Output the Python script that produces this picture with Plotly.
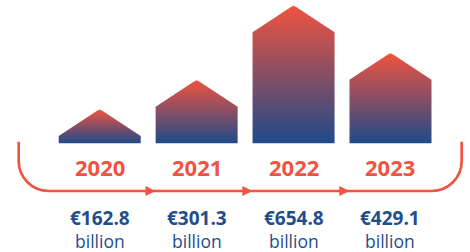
import plotly.graph_objects as go

# ---- data ----
years = ["2020", "2021", "2022", "2023"]
values = [162.8, 301.3, 654.8, 429.1]
value_labels = ["€162.8", "€301.3", "€654.8", "€429.1"]
unit_label = "billion"

# ---- style ----
W, H = 470, 252
RED = "#F0533F"
BLUE = "#1F4A8A"
TXT_BLUE = "#1F4E8C"
FONT = "Open Sans"

X_RANGE = [-1.0286, 3.8203]
Y_RANGE = [-515.7, 679.9]
px_per_x = W / (X_RANGE[1] - X_RANGE[0])
px_per_y = H / (Y_RANGE[1] - Y_RANGE[0])

half_w = 41 / px_per_x
roof = 27 / px_per_y


def py(p):  # pixel-from-top -> paper
    return 1 - p / H


def pxp(p):  # pixel-from-left -> paper
    return p / W


fig = go.Figure()

for i, v in enumerate(values):
    cx = i
    shoulder = v - roof
    cx_off = 3 / px_per_x
    cy_off = 2 / px_per_y
    xs = [cx - half_w, cx - half_w, cx - cx_off, cx, cx + cx_off, cx + half_w, cx + half_w, cx - half_w]
    ys = [0, shoulder, v - cy_off, v - 0.4 / px_per_y, v - cy_off, shoulder, 0, 0]
    fig.add_trace(go.Scatter(
        x=xs, y=ys, mode="lines", fill="toself",
        line=dict(width=0, color="rgba(0,0,0,0)"),
        fillgradient=dict(type="vertical", colorscale=[[0, BLUE], [1, RED]]),
        hoverinfo="skip", showlegend=False,
    ))

# year labels, values + units
for i, (yr, vl) in enumerate(zip(years, value_labels)):
    fig.add_annotation(x=i, y=py(166.5), xref="x", yref="paper", text=yr,
                       showarrow=False, yanchor="middle", xanchor="center",
                       font=dict(family=FONT, size=22, color=RED, weight=700))
    fig.add_annotation(
        x=i, y=py(229.0), xref="x", yref="paper",
        text=f"<span style='font-size:19px'><b>{vl}</b></span><br>{unit_label}",
        showarrow=False, yanchor="middle", xanchor="center",
        font=dict(family=FONT, size=17.5, color=TXT_BLUE))

# connecting line with rounded corners
xl, xr, ytop, ybot, R = 18.7, 461.7, 141.7, 191.0, 30.0
k = 0.5523 * R
pts = (
    f"M {pxp(xl)},{py(ytop)} L {pxp(xl)},{py(ybot - R)} "
    f"C {pxp(xl)},{py(ybot - R + k)} {pxp(xl + R - k)},{py(ybot)} {pxp(xl + R)},{py(ybot)} "
    f"L {pxp(xr - R)},{py(ybot)} "
    f"C {pxp(xr - R + k)},{py(ybot)} {pxp(xr)},{py(ybot - R + k)} {pxp(xr)},{py(ybot - R)} "
    f"L {pxp(xr)},{py(ytop)}"
)
fig.add_shape(type="path", path=pts, xref="paper", yref="paper",
              line=dict(color=RED, width=2.7))

# arrowheads between years
for i in range(len(years) - 1):
    tip = i + 0.575
    back = tip - 10 / px_per_x
    path = (f"M {tip},{py(ybot)} L {back},{py(ybot - 5)} "
            f"L {back},{py(ybot + 5)} Z")
    fig.add_shape(type="path", path=path, xref="x", yref="paper",
                  line=dict(width=0), fillcolor=RED)

fig.update_layout(
    width=W, height=H, margin=dict(l=0, r=0, t=0, b=0),
    paper_bgcolor="white", plot_bgcolor="white",
    xaxis=dict(range=X_RANGE, visible=False, fixedrange=True),
    yaxis=dict(range=Y_RANGE, visible=False, fixedrange=True),
    showlegend=False,
)

fig.write_html(
    "out.html",
    config={"displayModeBar": False},
    post_script="document.body.style.margin='0';document.body.style.overflow='hidden';",
)
